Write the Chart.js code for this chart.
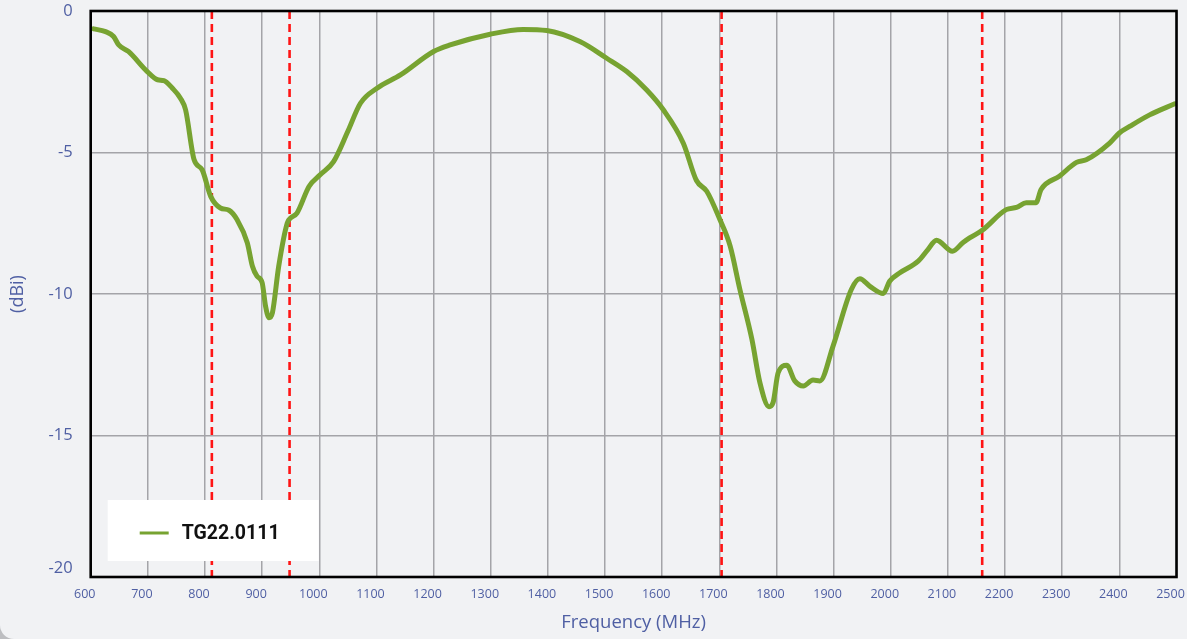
<!DOCTYPE html>
<html>
<head>
<meta charset="utf-8">
<title>TG22.0111 gain</title>
<script src="https://cdn.jsdelivr.net/npm/chart.js@4.4.1/dist/chart.umd.min.js"></script>
<style>
  html, body { margin: 0; padding: 0; background: #bdbec1; }
  #card { width: 1187px; height: 639px; background: #f1f2f4; border-bottom-left-radius: 14px; overflow: hidden; }
  canvas { display: block; }
</style>
</head>
<body>
<div id="card"><canvas id="gainChart" width="1187" height="639"></canvas></div>
<script>
// frequency (MHz) / gain (dBi)
const frequencies = [
  605, 626, 640, 649, 666, 699, 717, 728, 743, 757, 766, 781, 795, 810,
  827, 842, 856, 874, 883, 891, 900, 906, 912, 918, 929, 944, 950, 961,
  982, 1002, 1025, 1050, 1072, 1101, 1142, 1200, 1229, 1299, 1357, 1398,
  1456, 1503, 1538, 1573, 1602, 1637, 1660, 1678, 1701, 1719, 1736, 1757,
  1771, 1787, 1794, 1803, 1818, 1832, 1847, 1864, 1876, 1899, 1931, 1946,
  1963, 1987, 1998, 2016, 2048, 2065, 2080, 2108, 2126, 2138, 2160, 2202,
  2220, 2237, 2254, 2263, 2295, 2325, 2342, 2383, 2400, 2418, 2453, 2497
];
const gains = [
  -0.63, -0.73, -0.90, -1.20, -1.43, -2.14, -2.43, -2.46, -2.73, -3.08, -3.49, -5.26, -5.61, -6.55,
  -6.96, -7.04, -7.37, -8.19, -9.02, -9.37, -9.60, -10.43, -10.84, -10.66, -9.02, -7.49, -7.31, -7.14,
  -6.20, -5.78, -5.32, -4.25, -3.26, -2.73, -2.26, -1.43, -1.20, -0.82, -0.65, -0.69,
  -1.08, -1.67, -2.14, -2.79, -3.49, -4.67, -5.99, -6.37, -7.37, -8.31, -9.84, -11.60,
  -13.13, -13.98, -13.84, -12.78, -12.52, -13.07, -13.25, -13.04, -13.07, -11.84, -9.84, -9.46,
  -9.72, -9.98, -9.55, -9.25, -8.84, -8.43, -8.10, -8.49, -8.19, -8.02, -7.75, -7.02,
  -6.94, -6.78, -6.78, -6.31, -5.84, -5.35, -5.26, -4.67, -4.31, -4.08, -3.67, -3.28
];
const seriesName = 'TG22.0111';

// band edges (red dashed lines)
const markerFrequencies = [812, 948, 1704, 2160];

const xTickValues = [600, 700, 800, 900, 1000, 1100, 1200, 1300, 1400, 1500, 1600, 1700,
  1800, 1900, 2000, 2100, 2200, 2300, 2400, 2500];
const yTickValues = [0, -5, -10, -15, -20];

const labelColor = '#4f5fa3';
const fontFamily = '"Open Sans", "Noto Sans", sans-serif';

const markerSets = markerFrequencies.map(f => ({
  label: 'marker',
  data: [{ x: f, y: yTickValues[0] }, { x: f, y: yTickValues[yTickValues.length - 1] }],
  borderColor: '#ff1414',
  borderWidth: 2.6,
  borderDash: [8, 5],
  pointRadius: 0,
  order: 2
}));

// keep the lowest y label inside the plot, like the original
const liftBottomLabel = {
  id: 'liftBottomLabel',
  beforeDraw(chart) {
    const y = chart.scales.y;
    const items = y.getLabelItems();
    items.forEach(it => {
      const t = it.options.translation;
      if (t && t[1] > chart.chartArea.bottom - 8) t[1] = chart.chartArea.bottom - 9;
    });
  }
};

// white legend box in the lower left of the plot + black frame
const frameAndLegend = {
  id: 'frameAndLegend',
  afterDatasetsDraw(chart) {
    const { ctx, chartArea: a } = chart;
    const ds = chart.data.datasets[0];
    ctx.save();
    const bx = a.left + 17, by = a.bottom - 77;
    ctx.fillStyle = '#ffffff';
    ctx.fillRect(bx, by, 211, 61);
    ctx.strokeStyle = ds.borderColor;
    ctx.lineWidth = 3;
    ctx.beginPath();
    ctx.moveTo(bx + 32, by + 33);
    ctx.lineTo(bx + 61, by + 33);
    ctx.stroke();
    ctx.fillStyle = '#111111';
    ctx.font = 'bold 19.5px Roboto, sans-serif';
    ctx.textBaseline = 'middle';
    ctx.fillText(ds.label, bx + 74, by + 34);

    ctx.strokeStyle = '#000000';
    ctx.lineWidth = 2.6;
    ctx.strokeRect(a.left, a.top, a.right - a.left, a.bottom - a.top);
    ctx.restore();
  }
};

new Chart(document.getElementById('gainChart'), {
  type: 'line',
  data: {
    datasets: [
      {
        label: seriesName,
        data: frequencies.map((f, i) => ({ x: f, y: gains[i] })),
        borderColor: '#77a331',
        borderWidth: 5,
        borderJoinStyle: 'round',
        borderCapStyle: 'round',
        cubicInterpolationMode: 'monotone',
        pointRadius: 0,
        order: 1
      },
      ...markerSets
    ]
  },
  options: {
    responsive: false,
    animation: false,
    layout: { padding: { top: 11, right: 10.5, bottom: 0, left: 0 } },
    plugins: {
      legend: { display: false },
      tooltip: { enabled: false }
    },
    scales: {
      x: {
        type: 'linear',
        min: xTickValues[0],
        max: xTickValues[xTickValues.length - 1],
        afterBuildTicks: s => { s.ticks = xTickValues.map(v => ({ value: v })); },
        afterFit: s => { s.height = 62; s.paddingLeft = 0; s.paddingRight = 0; },
        grid: { color: '#a4a4a8', lineWidth: 1.5, drawTicks: false },
        border: { display: false },
        ticks: {
          color: labelColor,
          font: { family: fontFamily, size: 12.5 },
          padding: 10,
          labelOffset: -6,
          maxRotation: 0,
          callback: v => String(v)
        },
        title: {
          display: true,
          text: 'Frequency (MHz)',
          color: labelColor,
          font: { family: fontFamily, size: 18.5 },
          padding: { top: 2, bottom: 5 }
        }
      },
      y: {
        type: 'linear',
        min: yTickValues[yTickValues.length - 1],
        max: yTickValues[0],
        afterBuildTicks: s => { s.ticks = yTickValues.map(v => ({ value: v })); },
        afterFit: s => { s.width = 90.7; s.paddingTop = 0; s.paddingBottom = 0; },
        grid: { color: '#a4a4a8', lineWidth: 1.5, drawTicks: false },
        border: { display: false },
        ticks: { color: labelColor, font: { family: fontFamily, size: 16.5 }, padding: 18, callback: v => String(v) },
        title: {
          display: true,
          text: '(dBi)',
          color: labelColor,
          font: { family: fontFamily, size: 18 },
          padding: { top: 7, bottom: 0 }
        }
      }
    }
  },
  plugins: [liftBottomLabel, frameAndLegend]
});
</script>
</body>
</html>
